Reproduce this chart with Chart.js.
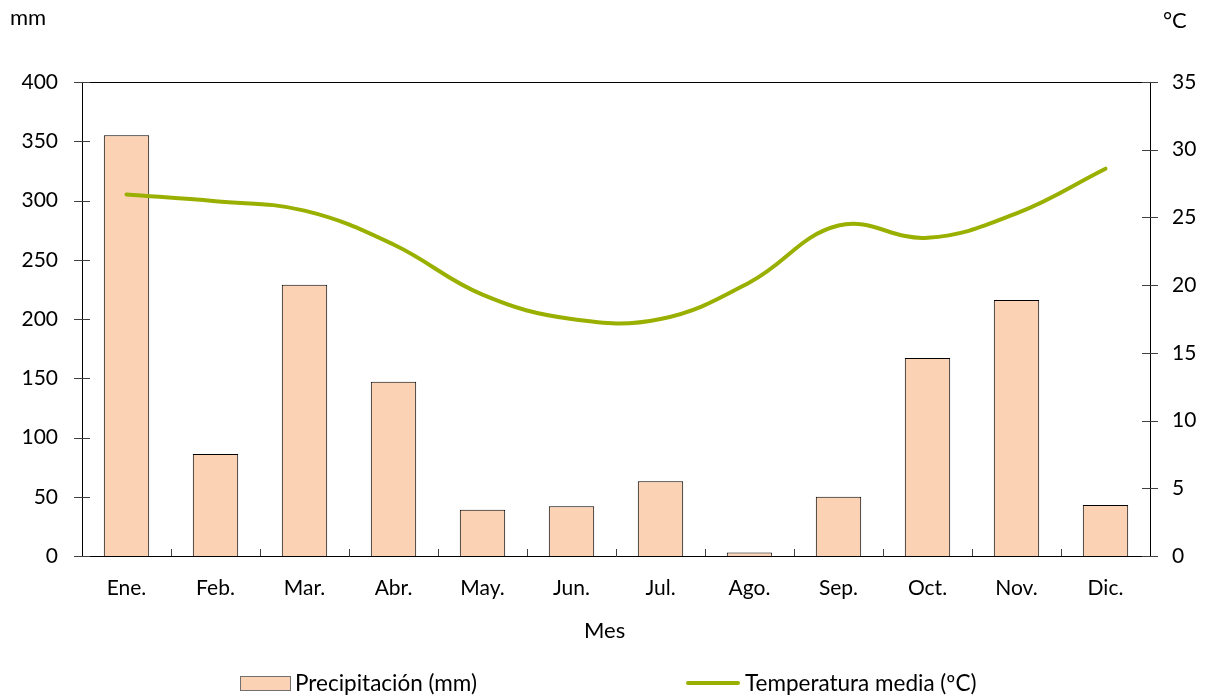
<!DOCTYPE html>
<html>
<head>
<meta charset="utf-8">
<script src="https://cdn.jsdelivr.net/npm/chart.js@4.4.1/dist/chart.umd.min.js"></script>
<style>
  body { margin:0; background:#fff; font-family: Lato, "Liberation Sans", sans-serif; }
  #wrap { position:relative; width:1209px; height:699px; }
  .lbl { position:absolute; font-size:22px; color:#000; line-height:1; white-space:nowrap; }
  .leg { font-size:22.5px; }
  .box { position:absolute; left:240px; top:676px; width:49px; height:13px; background:#fcd2b4; border:1px solid #707070; }
  .ln { position:absolute; left:686px; top:681px; width:54px; height:4px; background:#9ab000; border-radius:2px; }
</style>
</head>
<body>
<div id="wrap">
  <canvas id="chart" width="1209" height="699"></canvas>
  <div class="lbl" style="left:10px; top:6px;">mm</div>
  <div class="lbl" style="left:1163px; top:9px;">°C</div>
  <div class="lbl" style="left:584px; top:619px;">Mes</div>
  <div class="box"></div>
  <div class="lbl leg" style="left:295px; top:672px;">Precipitación (mm)</div>
  <div class="ln"></div>
  <div class="lbl leg" style="left:745px; top:672px;">Temperatura media (ºC)</div>
</div>
<script>
const meses = ["Ene.", "Feb.", "Mar.", "Abr.", "May.", "Jun.", "Jul.", "Ago.", "Sep.", "Oct.", "Nov.", "Dic."];
const precipitacion = [355, 86, 229, 147, 39, 42, 63, 3, 50, 167, 216, 43];
const temperatura = [26.7, 26.2, 25.5, 23.0, 19.3, 17.5, 17.5, 20.2, 24.4, 23.5, 25.3, 28.6];

const tickFont = { family: "Lato", size: 21 };

// ticks that cross the axes, and the top frame line
const frameTicks = {
  id: "frameTicks",
  afterDraw(chart) {
    const ctx = chart.ctx;
    const a = chart.chartArea;
    const x = chart.scales.x, y = chart.scales.y, y1 = chart.scales.y1;
    ctx.save();
    ctx.lineWidth = 1;
    ctx.strokeStyle = "#000";
    ctx.beginPath();
    ctx.moveTo(a.left, a.top + 0.5);
    ctx.lineTo(a.right, a.top + 0.5);
    ctx.stroke();
    ctx.strokeStyle = "#404040";
    ctx.beginPath();
    y.ticks.forEach(t => {
      const py = Math.round(y.getPixelForValue(t.value)) + 0.5;
      ctx.moveTo(a.left - 8, py);
      ctx.lineTo(a.left + 8, py);
    });
    y1.ticks.forEach(t => {
      const py = Math.round(y1.getPixelForValue(t.value)) + 0.5;
      ctx.moveTo(a.right - 8, py);
      ctx.lineTo(a.right + 8, py);
    });
    for (let i = 1; i < meses.length; i++) {
      const px = Math.round((x.getPixelForValue(i - 1) + x.getPixelForValue(i)) / 2) + 0.5;
      ctx.moveTo(px, a.bottom);
      ctx.lineTo(px, a.bottom - 7);
    }
    ctx.stroke();
    ctx.restore();
  }
};

new Chart(document.getElementById("chart"), {
  data: {
    labels: meses,
    datasets: [
      {
        type: "line",
        label: "Temperatura media (ºC)",
        data: temperatura,
        yAxisID: "y1",
        borderColor: "#9ab000",
        borderWidth: 4,
        borderCapStyle: "round",
        tension: 0.4,
        pointRadius: 0,
        order: 0
      },
      {
        type: "bar",
        label: "Precipitación (mm)",
        data: precipitacion,
        yAxisID: "y",
        backgroundColor: "#fcd2b4",
        borderColor: "#000",
        borderWidth: 1,
        categoryPercentage: 1,
        barPercentage: 0.51,
        order: 1
      }
    ]
  },
  options: {
    responsive: false,
    animation: false,
    layout: { padding: { top: 82, left: 0, right: 0, bottom: 56 } },
    plugins: {
      legend: { display: false },
      tooltip: { enabled: false }
    },
    scales: {
      x: {
        grid: { display: false },
        border: { display: true, color: "#000", width: 1 },
        ticks: { color: "#000", font: tickFont, padding: 12 },
        afterFit(s) { s.height = 87; }
      },
      y: {
        position: "left",
        min: 0,
        max: 400,
        grid: { display: false },
        border: { display: true, color: "#000", width: 1 },
        ticks: { stepSize: 50, color: "#000", font: tickFont, padding: 16 },
        afterFit(s) { s.width = 82; }
      },
      y1: {
        position: "right",
        min: 0,
        max: 35,
        grid: { display: false },
        border: { display: true, color: "#000", width: 1 },
        ticks: { stepSize: 5, color: "#000", font: tickFont, padding: 14 },
        afterFit(s) { s.width = 59; }
      }
    }
  },
  plugins: [frameTicks]
});
</script>
</body>
</html>
